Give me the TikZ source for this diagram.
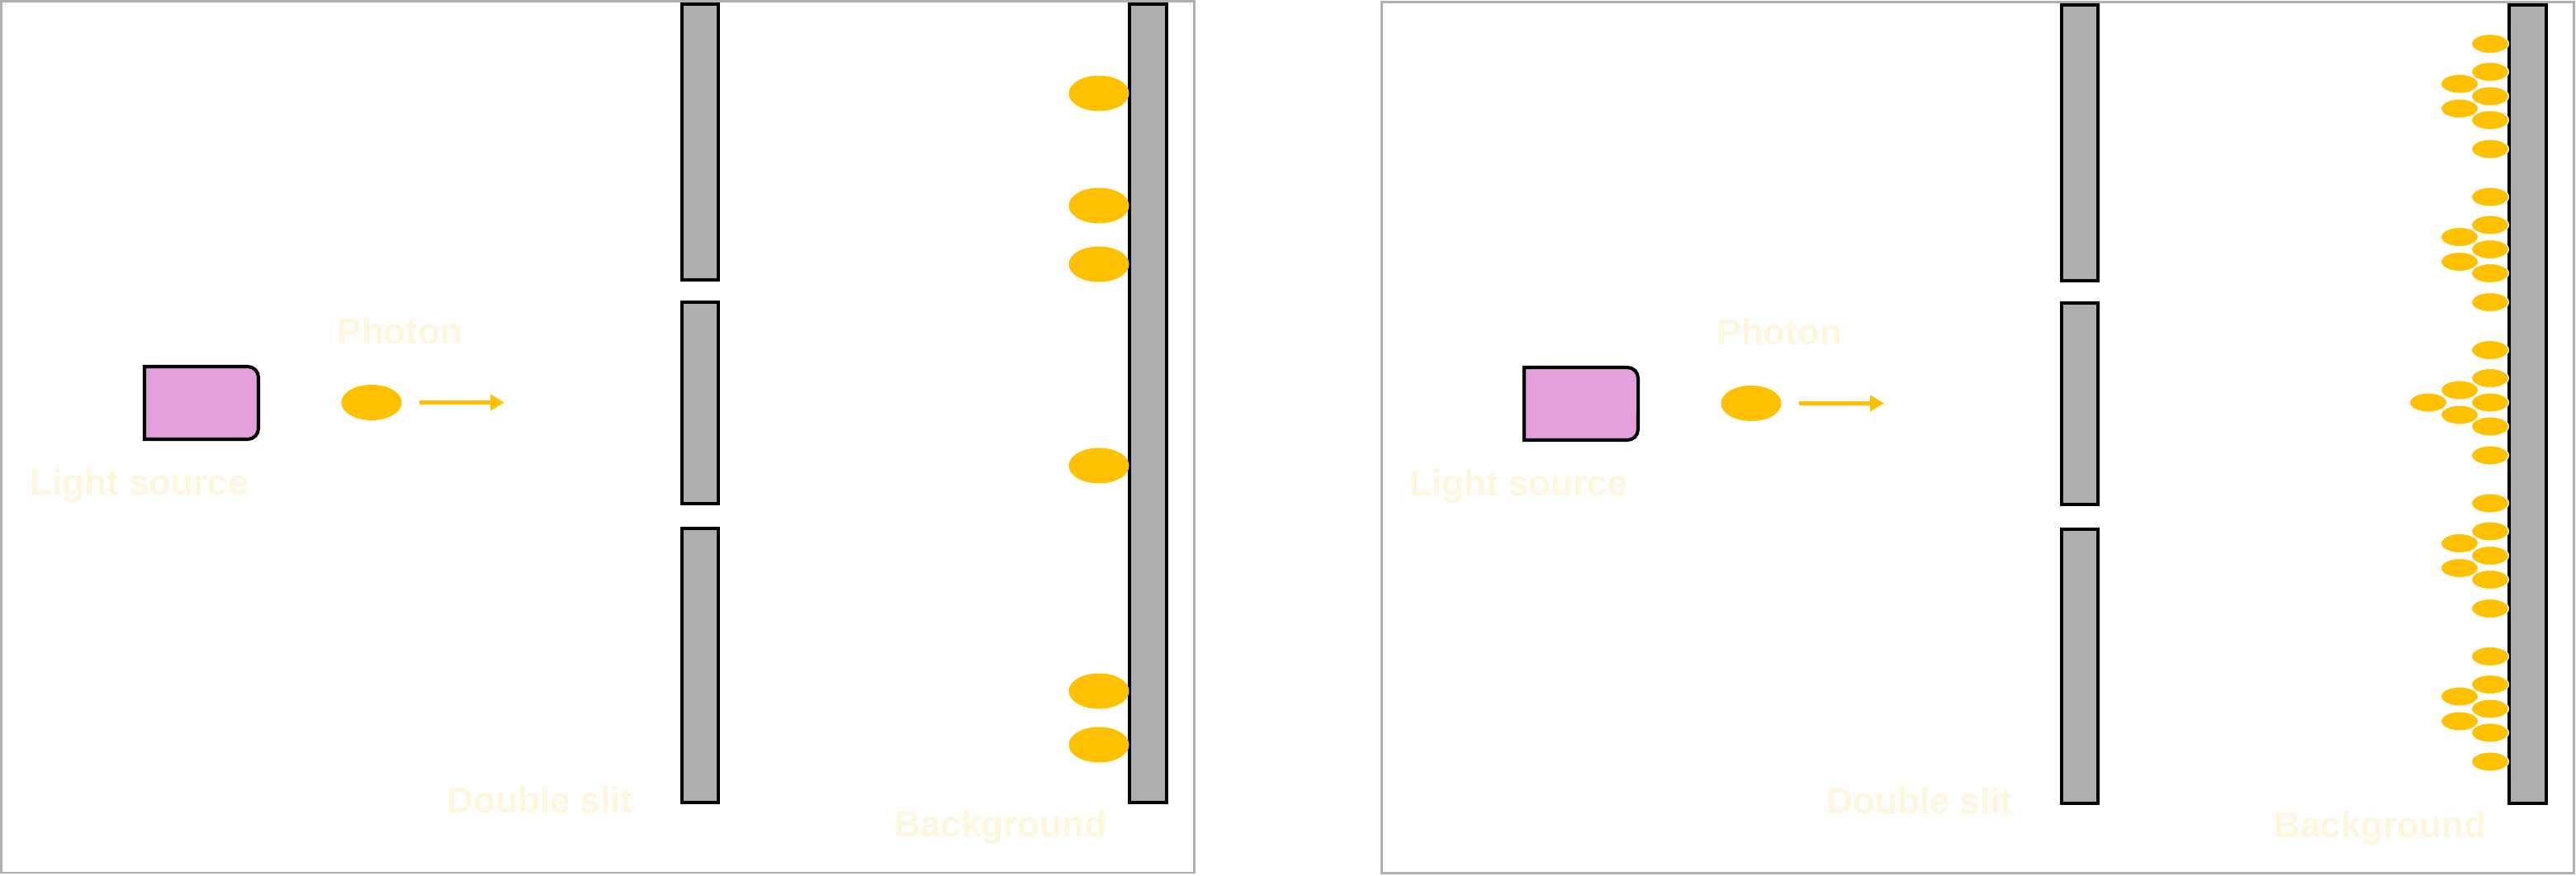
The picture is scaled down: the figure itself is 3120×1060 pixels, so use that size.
\documentclass[tikz,border=0pt]{standalone}
\usepackage{fontspec}
\setmainfont{Liberation Sans}
\usetikzlibrary{arrows.meta,shapes.geometric}
\definecolor{photon}{HTML}{FFC000}
\definecolor{srcpink}{HTML}{E4A0DC}
\definecolor{slitgray}{HTML}{AEAEAE}
\definecolor{framegray}{HTML}{B0B0B0}
\definecolor{lblcolor}{HTML}{FFF7DD}
\newcommand\panelcontent[1]{%
  \draw[srcbox] (175,528) -- (175,616) -- (300,616) arc[start angle=90,end angle=0,radius=0.13cm]
        -- (313,541) arc[start angle=0,end angle=-90,radius=0.13cm] -- cycle;
  \node[bigph] (#1photon) at (450,572.5) {};
  \coordinate (#1rayA) at (508,572.5);
  \coordinate (#1rayB) at (611,572.5);
  \draw[ray] (#1rayA) -- (#1rayB);
  \node[lbl] (#1lphoton) at (408,643) {Photon};
  \node[lbl] (#1lsource) at (36,460) {Light source};
  \draw[slitbox] (826,721) rectangle (870,1055);
  \draw[slitbox] (826,450) rectangle (870,694);
  \draw[slitbox] (826,88) rectangle (870,420);
  \draw[slitbox] (1368,88) rectangle (1413,1055);
  \node[lbl] (#1lslit) at (541,76) {Double slit};
  \node[lbl] (#1lback) at (1083,47) {Background};
}
\begin{document}
\begin{tikzpicture}[x=0.01cm,y=0.01cm,
  frame/.style={draw=framegray,line width=0.85pt},
  slitbox/.style={draw=black,fill=slitgray,line width=1.15pt},
  srcbox/.style={draw=black,fill=srcpink,line width=1.15pt},
  bigph/.style={ellipse,fill=photon,inner sep=0pt,minimum width=0.73cm,minimum height=0.43cm},
  hitbig/.style={ellipse,fill=photon,inner sep=0pt,minimum width=0.73cm,minimum height=0.43cm},
  hitsmall/.style={ellipse,fill=photon,draw=white,line width=0.3pt,inner sep=0pt,minimum width=0.45cm,minimum height=0.23cm},
  lbl/.style={text=lblcolor,font=\fontsize{12.5}{15}\selectfont\bfseries,inner sep=0pt,anchor=base west},
  ray/.style={draw=photon,line width=1.5pt,-{Triangle[length=0.17cm,width=0.19cm]}}]
\useasboundingbox (0,0) rectangle (3120,1060);
% frames
\draw[frame] (1.5,3) rectangle (1446.5,1058.5);
\draw[frame] (1673,2.5) rectangle (3117,1057);
% panel 1
\panelcontent{a}
\foreach \yy [count=\i] in {947,811,740,496,223,158}
  \node[hitbig] (ahit\i) at (1331,\yy) {};
% panel 2
\begin{scope}[shift={(1671,-1)}]
\panelcontent{b}
\end{scope}
\foreach \c [count=\g] in {943.5,758,572.5,387,201.5} {
  \node[hitsmall] (bB\g a) at (2979,\c+15) {};
  \node[hitsmall] (bB\g b) at (2979,\c-15) {};
  \node[hitsmall] (bA\g a) at (3016,\c+63.5) {};
  \node[hitsmall] (bA\g b) at (3016,\c+29.5) {};
  \node[hitsmall] (bA\g c) at (3016,\c) {};
  \node[hitsmall] (bA\g d) at (3016,\c-29) {};
  \node[hitsmall] (bA\g e) at (3016,\c-64) {};
}
\node[hitsmall] (bC) at (2941,572.5) {};
\end{tikzpicture}
\end{document}
